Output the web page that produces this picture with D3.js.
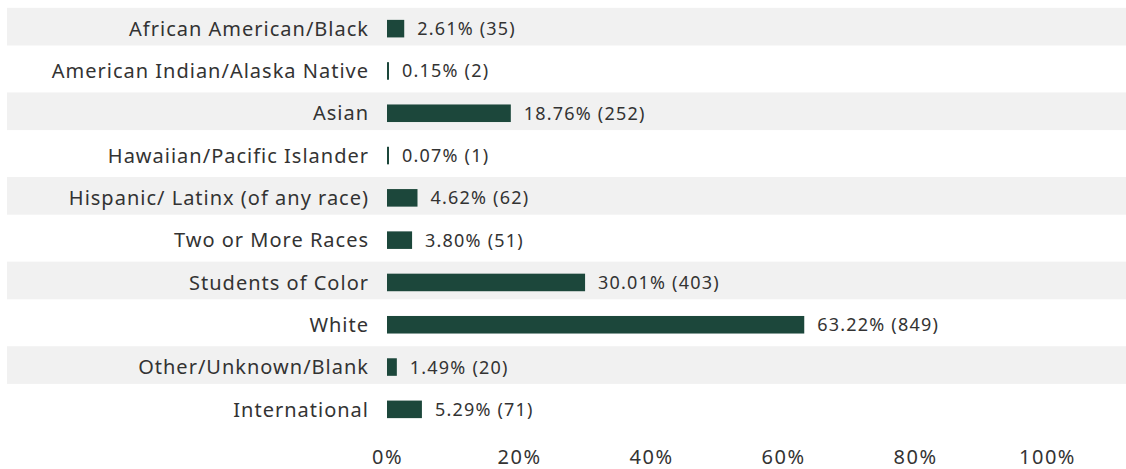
<!DOCTYPE html>
<html>
<head>
<meta charset="utf-8">
<script src="https://cdn.jsdelivr.net/npm/d3@7"></script>
<style>
  html, body { margin: 0; padding: 0; background: #fff; }
  svg { display: block; }
  text { font-family: "Noto Sans", "Open Sans", sans-serif; fill: #333; }
</style>
</head>
<body>
<svg id="chart" width="1126" height="469"></svg>
<script>
// Enrollment by race / ethnicity
const categories = [
  "African American/Black",
  "American Indian/Alaska Native",
  "Asian",
  "Hawaiian/Pacific Islander",
  "Hispanic/ Latinx (of any race)",
  "Two or More Races",
  "Students of Color",
  "White",
  "Other/Unknown/Blank",
  "International"
];
const percents = [2.61, 0.15, 18.76, 0.07, 4.62, 3.80, 30.01, 63.22, 1.49, 5.29];
const counts = [35, 2, 252, 1, 62, 51, 403, 849, 20, 71];
const tickValues = [0, 20, 40, 60, 80, 100];

const W = 1126, H = 469;
const svg = d3.select("#chart");

const x = d3.scaleLinear().domain([0, 100]).range([387, 1047]);

// row bands (used for the alternating background stripes)
const yRow = d3.scaleBand()
  .domain(categories)
  .range([5.5, 428.5])
  .paddingInner(0.11)
  .paddingOuter(0.055);

// thinner bands for the bars themselves
const yBar = d3.scaleBand()
  .domain(categories)
  .range([7.5, 430.5])
  .paddingInner(0.585)
  .paddingOuter(0.2925);

const rows = categories.map((c, i) => ({ cat: c, pct: percents[i], n: counts[i], i }));
const mid = d => yBar(d.cat) + yBar.bandwidth() / 2;

// alternating grey stripes
svg.append("g").selectAll("rect")
  .data(rows.filter(d => d.i % 2 === 0))
  .join("rect")
  .attr("x", 7)
  .attr("width", W - 7)
  .attr("y", d => yRow(d.cat))
  .attr("height", yRow.bandwidth())
  .attr("fill", "#f1f1f1");

// category labels
svg.append("g").selectAll("text")
  .data(rows)
  .join("text")
  .attr("x", x(0) - 18)
  .attr("y", mid)
  .attr("dy", "0.36em")
  .attr("text-anchor", "end")
  .style("font-size", "20px")
  .style("letter-spacing", "1.0px")
  .text(d => d.cat);

// bars
svg.append("g").selectAll("rect")
  .data(rows)
  .join("rect")
  .attr("x", x(0))
  .attr("y", d => yBar(d.cat))
  .attr("height", yBar.bandwidth())
  .attr("width", d => Math.max(2, x(d.pct) - x(0)))
  .attr("fill", "#1c473b");

// value labels
svg.append("g").selectAll("text")
  .data(rows)
  .join("text")
  .attr("x", d => Math.max(x(0) + 2, x(d.pct)) + 13)
  .attr("y", mid)
  .attr("dy", "0.36em")
  .style("font-size", "18px")
  .style("letter-spacing", "1.2px")
  .text(d => `${d.pct.toFixed(2)}% (${d.n})`);

// x axis (labels only)
const axis = d3.axisBottom(x)
  .tickValues(tickValues)
  .tickSize(0)
  .tickPadding(0)
  .tickFormat(d => d + "%");

const gx = svg.append("g")
  .attr("transform", "translate(0,450)")
  .call(axis);
gx.select(".domain").remove();
gx.selectAll("text")
  .attr("dy", "0.71em")
  .style("font-family", "'Noto Sans', 'Open Sans', sans-serif")
  .style("font-size", "20px")
  .style("letter-spacing", "1.5px")
  .attr("fill", "#333");
</script>
</body>
</html>
